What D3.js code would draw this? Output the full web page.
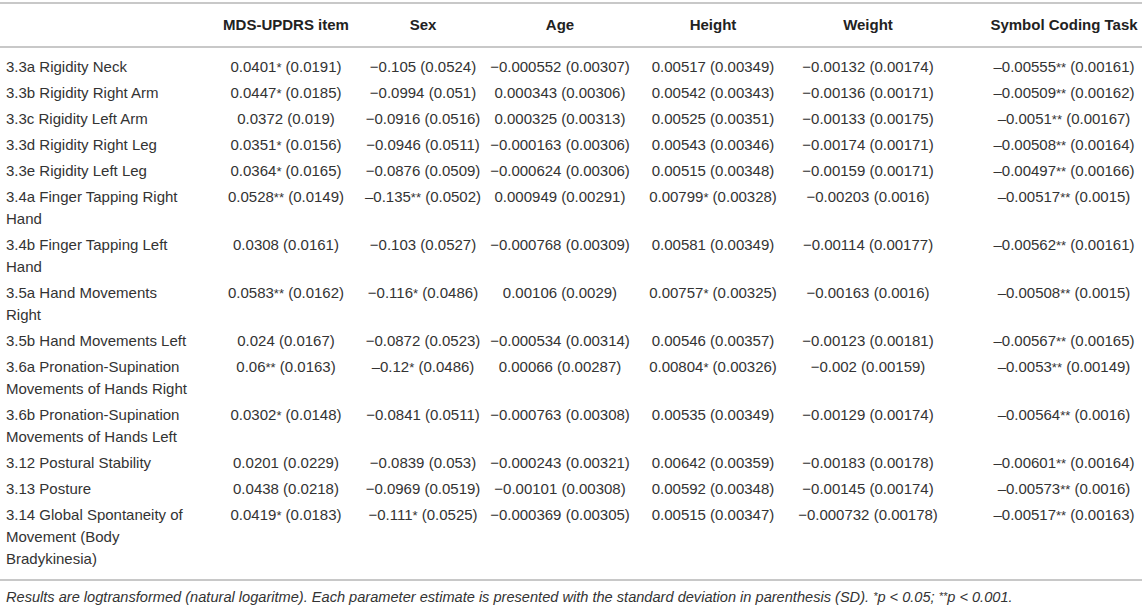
<!DOCTYPE html>
<html lang="en">
  <head>
    <meta charset="utf-8">
    <title>MDS-UPDRS items table</title>
    <script src="https://cdn.jsdelivr.net/npm/d3@7"></script>
    <style>
      body { margin: 0; background: #fff; }
      svg { display: block; font-family: "Liberation Sans", Arial, sans-serif; }
      .cell { font-size: 15px; fill: #333; }
      .head { font-size: 15px; font-weight: bold; fill: #222; }
      .note { font-size: 14.6px; font-style: italic; fill: #333; }
      .rule { stroke: #c8c8c8; stroke-width: 2; }
    </style>
  </head>
  <body>
    <svg width="1142" height="607"></svg>
    <script type="text/javascript">
      // column headers
      var headers = ["", "MDS-UPDRS item", "Sex", "Age", "Height", "Weight", "Symbol Coding Task"];

      // row labels, "|" marks a line break
      var items = [
        "3.3a Rigidity Neck",
        "3.3b Rigidity Right Arm",
        "3.3c Rigidity Left Arm",
        "3.3d Rigidity Right Leg",
        "3.3e Rigidity Left Leg",
        "3.4a Finger Tapping Right|Hand",
        "3.4b Finger Tapping Left|Hand",
        "3.5a Hand Movements|Right",
        "3.5b Hand Movements Left",
        "3.6a Pronation-Supination|Movements of Hands Right",
        "3.6b Pronation-Supination|Movements of Hands Left",
        "3.12 Postural Stability",
        "3.13 Posture",
        "3.14 Global Spontaneity of|Movement (Body|Bradykinesia)"
      ];

      var mds = [
        "0.0401* (0.0191)", "0.0447* (0.0185)", "0.0372 (0.019)", "0.0351* (0.0156)",
        "0.0364* (0.0165)", "0.0528** (0.0149)", "0.0308 (0.0161)", "0.0583** (0.0162)",
        "0.024 (0.0167)", "0.06** (0.0163)", "0.0302* (0.0148)", "0.0201 (0.0229)",
        "0.0438 (0.0218)", "0.0419* (0.0183)"
      ];

      var sex = [
        "\u22120.105 (0.0524)", "\u22120.0994 (0.051)", "\u22120.0916 (0.0516)", "\u22120.0946 (0.0511)",
        "\u22120.0876 (0.0509)", "\u20130.135** (0.0502)", "\u22120.103 (0.0527)", "\u22120.116* (0.0486)",
        "\u22120.0872 (0.0523)", "\u20130.12* (0.0486)", "\u22120.0841 (0.0511)", "\u22120.0839 (0.053)",
        "\u22120.0969 (0.0519)", "\u22120.111* (0.0525)"
      ];

      var age = [
        "\u22120.000552 (0.00307)", "0.000343 (0.00306)", "0.000325 (0.00313)", "\u22120.000163 (0.00306)",
        "\u22120.000624 (0.00306)", "0.000949 (0.00291)", "\u22120.000768 (0.00309)", "0.00106 (0.0029)",
        "\u22120.000534 (0.00314)", "0.00066 (0.00287)", "\u22120.000763 (0.00308)", "\u22120.000243 (0.00321)",
        "\u22120.00101 (0.00308)", "\u22120.000369 (0.00305)"
      ];

      var height = [
        "0.00517 (0.00349)", "0.00542 (0.00343)", "0.00525 (0.00351)", "0.00543 (0.00346)",
        "0.00515 (0.00348)", "0.00799* (0.00328)", "0.00581 (0.00349)", "0.00757* (0.00325)",
        "0.00546 (0.00357)", "0.00804* (0.00326)", "0.00535 (0.00349)", "0.00642 (0.00359)",
        "0.00592 (0.00348)", "0.00515 (0.00347)"
      ];

      var weight = [
        "\u22120.00132 (0.00174)", "\u22120.00136 (0.00171)", "\u22120.00133 (0.00175)", "\u22120.00174 (0.00171)",
        "\u22120.00159 (0.00171)", "\u22120.00203 (0.0016)", "\u22120.00114 (0.00177)", "\u22120.00163 (0.0016)",
        "\u22120.00123 (0.00181)", "\u22120.002 (0.00159)", "\u22120.00129 (0.00174)", "\u22120.00183 (0.00178)",
        "\u22120.00145 (0.00174)", "\u22120.000732 (0.00178)"
      ];

      var symbol = [
        "\u20130.00555** (0.00161)", "\u20130.00509** (0.00162)", "\u20130.0051** (0.00167)", "\u20130.00508** (0.00164)",
        "\u20130.00497** (0.00166)", "\u20130.00517** (0.0015)", "\u20130.00562** (0.00161)", "\u20130.00508** (0.0015)",
        "\u20130.00567** (0.00165)", "\u20130.0053** (0.00149)", "\u20130.00564** (0.0016)", "\u20130.00601** (0.00164)",
        "\u20130.00573** (0.0016)", "\u20130.00517** (0.00163)"
      ];

      var note = "Results are logtransformed (natural logaritme). Each parameter estimate is presented with the standard deviation in parenthesis (SD). ";

      var svg = d3.select("svg"),
          width = +svg.attr("width");

      // layout
      var firstRow = 67;
      var rowGap = 26;
      var lineGap = 22;
      var base = 5;

      // column centres
      var x = d3.scaleOrdinal()
          .domain(headers.slice(1))
          .range([286, 423, 560, 713, 868, 1064]);

      var columns = [mds, sex, age, height, weight, symbol];

      // row positions from the number of lines in each label
      var lines = items.map(function(d) { return d.split("|"); });
      var rowY = [];
      var y = firstRow;
      lines.forEach(function(l) {
        rowY.push(y);
        y += rowGap + (l.length - 1) * lineGap;
      });

      // rules
      [3, 47, 580].forEach(function(ry) {
        svg.append("line")
          .attr("class", "rule")
          .attr("x1", 0).attr("x2", width)
          .attr("y1", ry).attr("y2", ry);
      });

      // header
      svg.selectAll(".head")
        .data(headers.slice(1))
        .enter()
          .append("text")
          .attr("class", "head")
          .attr("x", function(d) { return x(d); })
          .attr("y", 25 + base)
          .attr("text-anchor", "middle")
          .text(function(d) { return d; });

      // row labels
      var labels = svg.selectAll(".label")
        .data(lines)
        .enter()
          .append("text")
          .attr("class", "cell label")
          .attr("x", 6)
          .attr("y", function(d, i) { return rowY[i] + base; });

      labels.selectAll("tspan")
        .data(function(d) { return d; })
        .enter()
          .append("tspan")
          .attr("x", 6)
          .attr("dy", function(d, i) { return i == 0 ? 0 : lineGap; })
          .text(function(d) { return d; });

      // write a value with smaller stars
      function fill(sel, s) {
        s.split(/(\*+)/).forEach(function(part) {
          if (part == "") return;
          var t = sel.append("tspan").text(part);
          if (part[0] == "*") t.style("font-size", "13px");
        });
      }

      // value cells
      columns.forEach(function(col, c) {
        svg.append("g")
          .selectAll("text")
          .data(col)
          .enter()
            .append("text")
            .attr("class", "cell")
            .attr("x", x(headers[c + 1]))
            .attr("y", function(d, i) { return rowY[i] + base; })
            .attr("text-anchor", "middle")
            .each(function(d) { fill(d3.select(this), d); });
      });

      // footnote
      var foot = svg.append("text")
        .attr("class", "note")
        .attr("x", 6)
        .attr("y", 597 + base);
      foot.append("tspan").text(note);
      foot.append("tspan").style("font-size", "11px").attr("dy", -2).text("*");
      foot.append("tspan").attr("dy", 2).text("p < 0.05; ");
      foot.append("tspan").style("font-size", "11px").attr("dy", -2).text("**");
      foot.append("tspan").attr("dy", 2).text("p < 0.001.");
    </script>
  </body>
</html>
